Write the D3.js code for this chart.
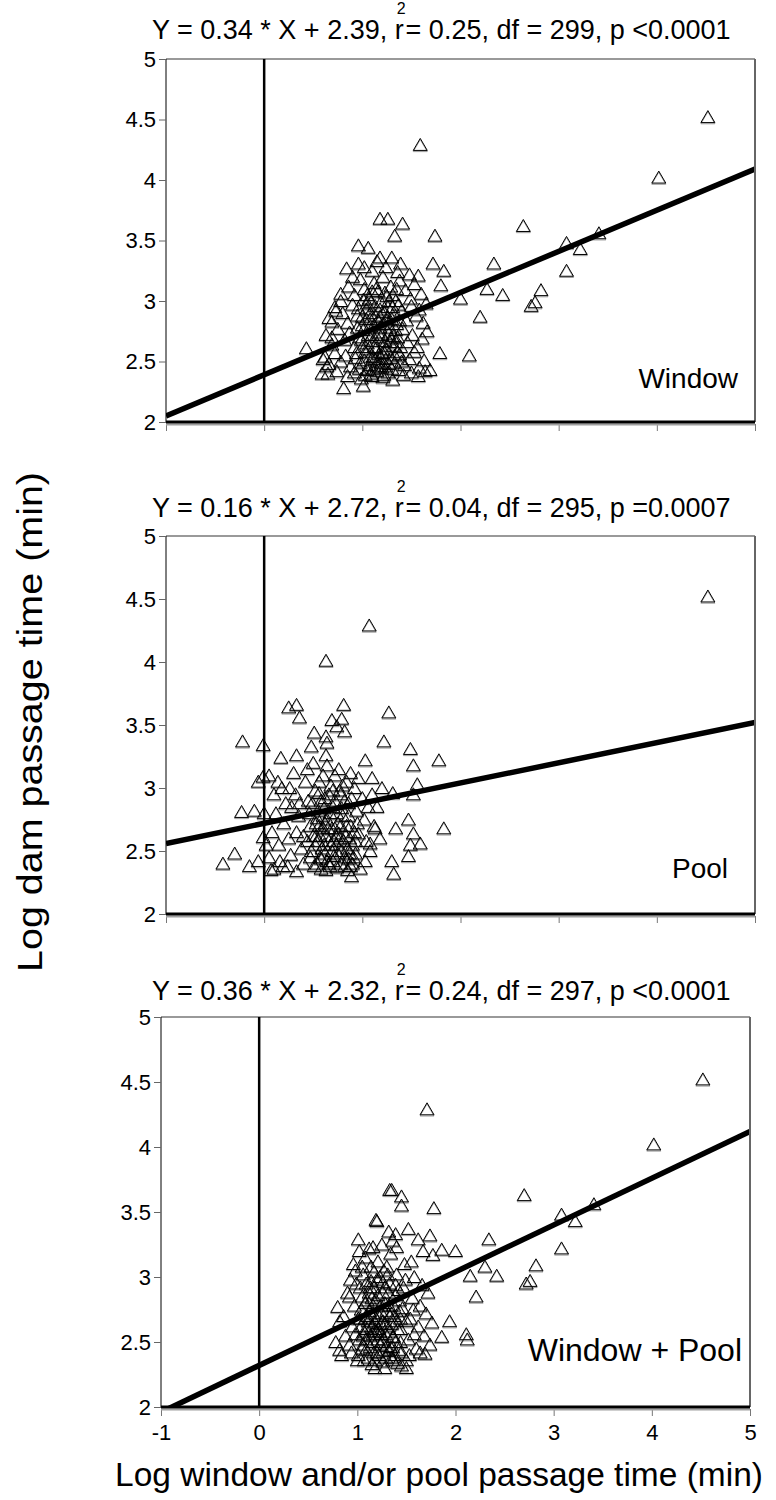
<!DOCTYPE html>
<html>
<head>
<meta charset="utf-8">
<script src="https://cdn.jsdelivr.net/npm/d3@7"></script>
<style>
  body { margin: 0; background: #fff; }
  text { font-family: "Liberation Sans", Arial, sans-serif; fill: #000; }
</style>
</head>
<body>
<script>
// ---------------- DATA ----------------
const panelNames = ["Window", "Pool", "Window + Pool"];
const slopes = [0.34, 0.16, 0.36];
const intercepts = [2.39, 2.72, 2.32];
const r2Values = ["0.25", "0.04", "0.24"];
const dfValues = ["299", "295", "297"];
const pValues = ["<0.0001", "=0.0007", "<0.0001"];

const xTicks = [-1, 0, 1, 2, 3, 4, 5];
const xTickLabels = ["-1", "0", "1", "2", "3", "4", "5"];
const yTicks = [2, 2.5, 3, 3.5, 4, 4.5, 5];
const yTickLabels = ["2", "2.5", "3", "3.5", "4", "4.5", "5"];

const xAxisTitle = "Log window and/or pool passage time (min)";
const yAxisTitle = "Log dam passage time (min)";

// Window panel points [x, y]
const windowPoints = [
  [4.52,4.52],[4.02,4.02],[1.59,4.29],[2.64,3.62],[3.08,3.48],[3.22,3.43],[3.41,3.56],[3.08,3.25],
  [2.82,3.09],[2.76,2.99],[2.72,2.96],[2.43,3.05],[2.34,3.31],[2.27,3.10],[2.20,2.87],[2.09,2.55],
  [2.00,3.02],[1.80,3.13],[1.83,3.25],[1.72,3.31],[1.74,3.54],[1.79,2.57],[1.69,2.43],[0.43,2.61],
  [1.18,3.68],[1.26,3.68],[1.41,3.64],[1.33,3.54],[0.96,3.46],[1.06,3.44],[1.30,3.36],[1.18,3.36],
  [1.39,3.31],[0.84,3.27],[0.96,3.31],[1.57,3.21],[0.81,2.28],[1.01,2.30],[0.78,3.06],[0.73,2.92],
  [0.69,2.83],[0.69,2.70],[0.62,2.54],[0.64,2.46],[0.59,2.40],
  [0.86,3.12],[0.92,3.05],[0.98,3.18],[1.02,3.10],[1.07,3.02],[1.12,3.15],[1.16,3.08],[1.21,3.20],
  [1.25,3.04],[1.29,3.12],[1.34,3.00],[1.38,3.17],[1.44,3.09],[1.49,3.02],[1.53,3.14],[1.60,3.06],
  [1.65,2.98],[0.78,3.00],[1.10,3.25],[1.24,3.28],[1.36,3.24],[1.48,3.22],[0.90,3.20],[1.02,3.28],
  [1.15,3.33],
  [0.66,2.86],[0.72,2.95],[0.80,2.90],[0.85,2.82],[0.90,2.97],[0.95,2.88],[1.00,2.80],[1.04,2.93],
  [1.08,2.85],[1.13,2.96],[1.17,2.83],[1.22,2.91],[1.26,2.87],[1.31,2.95],[1.35,2.81],[1.40,2.92],
  [1.45,2.84],[1.50,2.96],[1.55,2.88],[1.62,2.82],[1.58,2.93],[1.19,2.99],[1.28,2.78],
  [0.63,2.72],[0.69,2.64],[0.75,2.77],[0.82,2.68],[0.87,2.74],[0.92,2.62],[0.97,2.70],[1.01,2.76],
  [1.05,2.65],[1.10,2.72],[1.14,2.61],[1.18,2.78],[1.23,2.67],[1.27,2.73],[1.32,2.63],[1.36,2.70],
  [1.41,2.77],[1.46,2.66],[1.51,2.72],[1.56,2.62],[1.61,2.69],[1.66,2.75],[1.12,2.80],[1.25,2.60],
  [0.60,2.52],[0.66,2.48],[0.72,2.57],[0.78,2.50],[0.83,2.55],[0.88,2.46],[0.93,2.53],[0.98,2.49],
  [1.03,2.58],[1.07,2.47],[1.11,2.54],[1.16,2.50],[1.20,2.57],[1.24,2.46],[1.29,2.53],[1.33,2.49],
  [1.38,2.56],[1.43,2.47],[1.48,2.52],[1.53,2.58],[1.58,2.45],[1.63,2.51],
  [0.65,2.40],[0.74,2.42],[0.85,2.38],[0.92,2.41],[0.99,2.36],[1.05,2.43],[1.10,2.38],[1.15,2.42],
  [1.21,2.37],[1.26,2.41],[1.31,2.35],[1.37,2.43],[1.42,2.39],[1.50,2.41],[1.57,2.38],[1.64,2.42],
  [1.00,2.62],[1.08,2.90],[1.15,2.70],[1.20,2.45],[1.30,2.85],[1.05,3.05],[1.22,2.58],[0.95,2.78],
  [1.13,2.52],[1.34,2.66],[1.27,3.00],[1.09,2.40],
  [0.97,2.44],[1.02,2.51],[1.06,2.60],[1.11,2.67],[1.16,2.74],[1.21,2.81],[1.26,2.95],[1.31,3.05],
  [1.36,2.58],[0.99,2.68],[1.04,2.85],[1.09,2.99],[1.14,3.10],[1.19,2.49],[1.24,2.52],[1.29,2.69],
  [1.34,2.76],[1.39,2.62],[0.96,2.94],[1.01,3.01],[1.06,2.72],[1.11,2.44],[1.17,2.56],[1.22,2.63],
  [1.27,2.48],[1.32,2.90],[1.37,2.97],[1.03,2.39],[1.13,2.88],[1.23,3.07],[1.33,2.55],[1.07,2.78],
  [1.18,2.93],[1.28,2.66],[1.38,2.84],[1.00,2.87],[1.10,3.08],[1.20,2.72],[1.30,2.44],[1.40,2.50],
  [0.94,2.57],[1.05,2.98],[1.15,2.46],[1.25,2.84],[1.35,3.10],[1.12,2.62],[1.22,2.39],[1.32,2.71],
  [1.08,2.54],[1.18,2.87]
];

// Pool panel points [x, y]
const poolPoints = [
  [4.52,4.52],[1.07,4.29],[0.63,4.01],
  [0.33,3.66],[0.25,3.64],[0.36,3.56],[0.81,3.66],[1.27,3.60],[0.69,3.54],[0.79,3.55],[0.74,3.49],
  [0.82,3.45],[0.51,3.44],[0.63,3.41],[0.64,3.36],[-0.22,3.37],[-0.01,3.34],[0.48,3.33],[1.22,3.37],
  [1.49,3.31],[1.78,3.22],[1.03,3.22],[1.52,3.18],[0.17,3.24],[0.33,3.26],[0.63,3.26],[1.10,3.08],
  [1.56,3.03],[1.31,2.96],[1.52,2.95],[-0.01,3.09],[-0.06,3.05],[-0.23,2.81],[-0.10,2.82],[1.47,2.75],
  [1.83,2.68],[1.34,2.68],[1.13,2.68],[1.52,2.64],[1.59,2.56],[1.49,2.55],[1.47,2.46],[1.30,2.42],
  [1.32,2.32],[0.89,2.30],[1.03,2.42],[-0.30,2.48],[-0.42,2.40],[-0.15,2.38],[-0.06,2.42],[0.07,2.35],
  [0.19,2.38],[0.33,2.34],[-0.01,2.61],[1.08,2.56],
  [0.05,3.10],[0.10,2.95],[0.12,2.80],[0.08,2.65],[0.15,2.55],[0.05,2.45],[0.18,3.00],[0.20,2.72],
  [0.22,2.88],[0.25,2.60],[0.27,2.47],[0.30,3.12],[0.32,2.95],[0.35,2.78],[0.33,2.65],[0.38,2.52],
  [0.40,2.40],[0.42,3.05],[0.45,2.90],[0.47,2.70],[0.44,2.58],[0.50,3.20],[0.52,2.98],[0.55,2.82],
  [0.53,2.62],[0.57,2.45],[0.58,2.36],[0.60,3.10],[0.62,2.92],[0.64,2.75],[0.61,2.55],[0.66,2.40],
  [0.68,3.02],[0.70,2.85],[0.72,2.68],[0.69,2.50],[0.74,2.37],[0.76,3.15],[0.78,2.95],[0.80,2.78],
  [0.77,2.60],[0.82,2.45],[0.84,3.05],[0.86,2.88],[0.88,2.70],[0.85,2.52],[0.90,2.40],[0.92,3.00],
  [0.94,2.82],[0.96,2.64],[0.93,2.48],[0.98,2.36],[1.00,2.92],[1.02,2.75],[1.04,2.58],[1.06,2.85],
  [1.08,2.50],[0.48,2.50],[0.56,2.70],[0.63,2.62],[0.71,2.58],[0.79,2.50],[0.87,2.60],[0.58,2.90],
  [0.66,2.95],[0.74,2.80],[0.82,2.90],[0.46,2.80],[0.54,2.40],[0.62,2.48],[0.70,2.42],[0.78,2.40],
  [0.86,2.44],[0.50,2.62],[0.60,2.68],[0.75,2.72],[0.90,2.55],[0.95,2.72],[0.40,2.62],[0.36,2.88],
  [0.28,2.85],[0.16,2.42],[0.24,2.38],[0.10,2.36],[0.02,2.55],[0.00,2.80],[0.14,3.05],[0.26,3.00],
  [0.44,3.15],[0.56,3.05],[0.64,3.18],[0.72,3.10],[0.88,3.12],[0.96,3.08],[1.10,2.95],[1.12,2.70],
  [1.15,2.85],[1.18,2.60],[1.20,3.00],
  [0.47,2.45],[0.52,2.55],[0.57,2.62],[0.62,2.72],[0.67,2.80],[0.72,2.90],[0.77,2.98],[0.82,2.38],
  [0.87,2.48],[0.92,2.65],[0.49,2.88],[0.54,2.76],[0.59,2.52],[0.64,2.42],[0.69,2.68],[0.74,2.55],
  [0.79,2.84],[0.84,2.70],[0.89,2.92],[0.51,2.38],[0.56,2.96],[0.61,2.84],[0.66,2.58],[0.71,2.46],
  [0.76,2.64],[0.81,2.58],[0.86,2.78],[0.91,2.45],[0.58,2.44],[0.63,2.35],[0.68,2.55],[0.73,2.62],
  [0.78,2.70],[0.83,2.62],[0.88,2.38],[0.60,2.78],[0.70,2.98],[0.80,3.02],[0.55,2.58],[0.65,2.68],
  [0.75,2.48],[0.85,2.35],[0.93,2.58],[0.53,2.72],[0.67,2.38]
];

// Window + Pool panel points [x, y]
const combinedPoints = [
  [4.52,4.52],[4.02,4.02],[1.71,4.29],[2.70,3.63],[3.08,3.48],[3.22,3.43],[3.41,3.56],[3.08,3.22],
  [2.82,3.09],[2.76,2.97],[2.72,2.95],[2.11,2.56],
  [1.33,3.67],[1.35,3.67],[1.45,3.62],[1.45,3.55],[1.78,3.53],[1.19,3.44],[1.20,3.43],[1.52,3.37],
  [1.32,3.35],[1.39,3.33],[2.34,3.29],[1.74,3.32],[1.62,3.29],[1.01,3.29],[1.86,3.21],[2.00,3.20],
  [1.16,3.23],[1.40,3.23],[1.67,3.20],[1.77,3.17],[2.30,3.08],[2.15,3.01],[2.42,3.01],[2.21,2.85],
  [0.98,3.05],[0.93,2.98],[0.92,2.85],[0.80,2.77],[0.82,2.66],[1.94,2.66],[1.86,2.54],[2.12,2.52],
  [1.69,2.41],[0.82,2.44],[0.78,2.50],[1.50,2.30],
  [0.84,2.40],[0.88,2.55],[0.86,2.70],[0.90,2.88],[0.92,2.48],[0.95,2.62],[0.97,2.78],[0.99,2.95],
  [1.00,2.36],[1.02,2.52],[1.03,2.68],[1.05,2.85],[1.06,3.02],[1.08,3.15],[1.09,2.44],[1.10,2.60],
  [1.12,2.74],[1.13,2.92],[1.14,3.08],[1.15,2.33],[1.16,2.50],[1.18,2.65],[1.19,2.82],[1.20,2.98],
  [1.21,3.12],[1.22,2.40],[1.24,2.56],[1.25,2.72],[1.26,2.88],[1.27,3.05],[1.28,2.30],[1.30,2.47],
  [1.31,2.62],[1.32,2.78],[1.33,2.95],[1.34,3.18],[1.35,2.38],[1.37,2.54],[1.38,2.70],[1.39,2.86],
  [1.40,3.02],[1.42,2.44],[1.44,2.60],[1.46,2.76],[1.47,2.92],[1.48,3.10],[1.50,2.36],[1.52,2.52],
  [1.54,2.68],[1.56,2.84],[1.58,3.00],[1.60,2.45],[1.62,2.62],[1.64,2.78],[1.66,2.94],[1.68,2.55],
  [1.70,2.72],[1.72,2.88],[1.74,2.48],[1.76,2.65],[1.05,2.45],[1.11,2.38],[1.17,2.42],[1.23,2.48],
  [1.29,2.38],[1.36,2.46],[1.41,2.34],[1.07,2.58],[1.13,2.55],[1.19,2.58],[1.27,2.52],[1.33,2.58],
  [1.04,2.75],[1.10,2.82],[1.16,2.78],[1.22,2.70],[1.28,2.80],[1.09,2.95],[1.17,2.92],[1.23,3.00],
  [1.30,3.08],[1.12,3.22],[1.25,3.25],[1.36,3.28],[1.45,2.32],[1.53,2.40],[1.58,2.56],[1.64,2.42],
  [1.50,2.66],[1.57,2.75],[1.43,2.82],[1.49,2.98],[1.55,3.12],[0.94,2.42],[0.98,2.56],[1.01,2.68],
  [0.96,3.10],[1.02,3.20],[1.18,2.30],[1.26,2.35],[1.32,2.43],[1.15,2.62],[1.21,2.52],[1.39,2.50],
  [1.44,2.68],[1.35,2.64],[1.08,2.68],[1.24,2.64],
  [1.01,2.40],[1.06,2.55],[1.11,2.66],[1.16,2.72],[1.21,2.86],[1.26,2.96],[1.31,3.02],[1.36,2.54],
  [1.41,2.60],[1.03,2.92],[1.08,2.80],[1.13,2.46],[1.18,2.36],[1.23,2.58],[1.28,2.64],[1.33,2.70],
  [1.38,2.40],[1.43,2.74],[1.04,2.62],[1.09,2.52],[1.14,2.97],[1.19,2.68],[1.24,2.78],[1.29,2.56],
  [1.34,2.46],[1.39,2.94],[1.44,2.50],[1.07,2.36],[1.12,2.88],[1.17,3.04],[1.22,2.60],[1.27,2.44],
  [1.32,2.88],[1.37,2.78],[1.42,2.90],[1.05,3.08],[1.15,2.84],[1.25,2.50],[1.35,2.72],[1.45,2.42],
  [1.10,2.70],[1.20,2.42],[1.30,2.74],[1.40,2.66],[1.16,2.56],[1.26,2.66],[1.36,2.36],[1.06,2.48],
  [1.28,2.92],[1.18,2.60]
];

const panelData = [windowPoints, poolPoints, combinedPoints];

// ---------------- LAYOUT ----------------
const layout = [
  { top: 59,   bottom: 422,  left: 166, right: 755, titleY: 39,   labelRight: 738, labelUp: 34, labelSize: 28 },
  { top: 536,  bottom: 914,  left: 166, right: 755, titleY: 517,  labelRight: 728, labelUp: 36, labelSize: 28 },
  { top: 1017, bottom: 1407, left: 161, right: 750, titleY: 1000, labelRight: 742, labelUp: 46, labelSize: 32 }
];

const svg = d3.select("body").append("svg")
  .attr("width", 776).attr("height", 1500)
  .style("display", "block");

const tri = "M0,-6.5L7,5.5L-7,5.5Z";

layout.forEach((L, i) => {
  const x = d3.scaleLinear().domain([-1, 5]).range([L.left, L.right]);
  const y = d3.scaleLinear().domain([2, 5]).range([L.bottom, L.top]);
  const g = svg.append("g");

  const clipId = "clip" + i;
  svg.append("clipPath").attr("id", clipId)
    .append("rect").attr("x", L.left).attr("y", L.top)
    .attr("width", L.right - L.left).attr("height", L.bottom - L.top);

  // title
  const t = g.append("text").attr("x", 152).attr("y", L.titleY).style("font-size", "27px");
  t.append("tspan").text(`Y = ${slopes[i].toFixed(2)} * X + ${intercepts[i].toFixed(2)}, r`);
  t.append("tspan").attr("dx", -7).attr("dy", -25).style("font-size", "16px").text("2");
  t.append("tspan").attr("dx", 0).attr("dy", 25)
    .text(`= ${r2Values[i]}, df = ${dfValues[i]}, p ${pValues[i]}`);

  // points
  const pg = g.append("g").attr("clip-path", `url(#${clipId})`);
  pg.selectAll("path.sh").data(panelData[i]).join("path")
    .attr("class", "sh").attr("d", tri)
    .attr("transform", d => `translate(${x(d[0])},${y(d[1]) + 1.2})`)
    .attr("fill", "none").attr("stroke", "#9a9a9a").attr("stroke-width", 1);
  pg.selectAll("path.pt").data(panelData[i]).join("path")
    .attr("class", "pt").attr("d", tri)
    .attr("transform", d => `translate(${x(d[0])},${y(d[1])})`)
    .attr("fill", "none").attr("stroke", "#000").attr("stroke-width", 1);

  // regression line
  const fitX = [-1, 5];
  const line = d3.line().x(d => x(d)).y(d => y(slopes[i] * d + intercepts[i]));
  g.append("path").datum(fitX).attr("d", line)
    .attr("clip-path", `url(#${clipId})`)
    .attr("fill", "none").attr("stroke", "#000").attr("stroke-width", 5.5);

  // frame
  g.append("line").attr("x1", L.left).attr("x2", L.right).attr("y1", L.top).attr("y2", L.top)
    .attr("stroke", "#777").attr("stroke-width", 1.5);
  g.append("line").attr("x1", L.right).attr("x2", L.right).attr("y1", L.top).attr("y2", L.bottom)
    .attr("stroke", "#666").attr("stroke-width", 2);
  g.append("line").attr("x1", L.left).attr("x2", L.left).attr("y1", L.top).attr("y2", L.bottom)
    .attr("stroke", "#000").attr("stroke-width", 1);
  g.append("line").attr("x1", x(0)).attr("x2", x(0)).attr("y1", L.top).attr("y2", L.bottom)
    .attr("stroke", "#000").attr("stroke-width", 2.5);

  // y axis
  const ya = g.append("g").attr("transform", `translate(${L.left},0)`)
    .call(d3.axisLeft(y).tickValues(yTicks).tickSize(7).tickPadding(3)
      .tickFormat((d, k) => yTickLabels[k]));
  ya.select(".domain").remove();
  ya.selectAll(".tick line").attr("stroke", "#666");
  ya.selectAll(".tick text").style("font-size", "22px").style("font-family", "'Liberation Sans', Arial, sans-serif");

  // x axis
  const xa = g.append("g").attr("transform", `translate(0,${L.bottom + 2})`)
    .call(d3.axisBottom(x).tickValues(xTicks).tickSize(7).tickPadding(8)
      .tickFormat((d, k) => i === 2 ? xTickLabels[k] : ""));
  xa.select(".domain").remove();
  xa.selectAll(".tick line").attr("stroke", "#777");
  xa.selectAll(".tick text").style("font-size", "22px").style("font-family", "'Liberation Sans', Arial, sans-serif");

  // bottom thick axis line with grey underline
  g.append("line").attr("x1", L.left).attr("x2", L.right).attr("y1", L.bottom + 2.5).attr("y2", L.bottom + 2.5)
    .attr("stroke", "#a0a0a0").attr("stroke-width", 2);
  g.append("line").attr("x1", L.left).attr("x2", L.right).attr("y1", L.bottom).attr("y2", L.bottom)
    .attr("stroke", "#000").attr("stroke-width", 3);

  // panel label
  g.append("text").attr("x", L.labelRight).attr("y", L.bottom - L.labelUp)
    .attr("text-anchor", "end").style("font-size", L.labelSize + "px").text(panelNames[i]);
});

// axis titles
svg.append("text").attr("x", 439).attr("y", 1486).attr("text-anchor", "middle")
  .attr("textLength", 648).attr("lengthAdjust", "spacingAndGlyphs")
  .style("font-size", "33px").text(xAxisTitle);
svg.append("text").attr("transform", "translate(42,722) rotate(-90)")
  .attr("text-anchor", "middle")
  .attr("textLength", 500).attr("lengthAdjust", "spacingAndGlyphs")
  .style("font-size", "35px").text(yAxisTitle);
</script>
</body>
</html>
